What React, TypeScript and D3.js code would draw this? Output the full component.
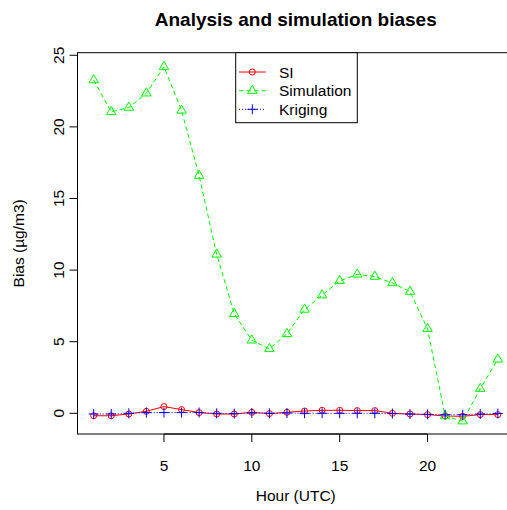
import React from "react";
import * as d3 from "d3";

const hours = [1, 2, 3, 4, 5, 6, 7, 8, 9, 10, 11, 12, 13, 14, 15, 16, 17, 18, 19, 20, 21, 22, 23, 24];
const siBias = [-0.17, -0.17, -0.05, 0.14, 0.47, 0.26, 0.05, -0.05, -0.05, 0.07, -0.02, 0.07, 0.16, 0.21, 0.21, 0.19, 0.19, 0, -0.05, -0.09, -0.19, -0.21, -0.09, -0.09];
const simBias = [23.27, 21.05, 21.35, 22.35, 24.2, 21.15, 16.6, 11.1, 6.95, 5.1, 4.5, 5.55, 7.25, 8.25, 9.25, 9.7, 9.55, 9.1, 8.5, 5.9, -0.18, -0.55, 1.72, 3.77];
const krigBias = [-0.05, -0.05, 0, 0.05, 0.05, 0.05, 0.05, 0, -0.02, 0.02, 0, 0.02, 0, 0, 0, 0, 0, -0.02, -0.05, -0.07, -0.1, -0.1, -0.05, -0.02];
const xTicks = [5, 10, 15, 20];
const yTicks = [0, 5, 10, 15, 20, 25];
const seriesNames = ["SI", "Simulation", "Kriging"];
const title = "Analysis and simulation biases";
const xTitle = "Hour (UTC)";
const yTitle = "Bias (µg/m3)";

const W = 507;
const H = 510;
const FONT = "'Liberation Sans', Arial, sans-serif";
const plotLeft = 77.5;
const plotRight = 514;
const plotTop = 52.7;
const plotBottom = 434;

const colors = ["#FF0000", "#00FF00", "#0000FF"];
const dashes = [undefined, "4.5,3", "1,2"];

function Marker({ kind, x, y, color }: { kind: number; x: number; y: number; color: string }) {
  if (kind === 0) return <circle cx={x} cy={y} r={3} fill="none" stroke={color} strokeWidth={1} />;
  if (kind === 1) {
    const s = 3.5;
    const pts = [
      [x, y - 1.555 * s],
      [x + 1.3468 * s, y + 0.7776 * s],
      [x - 1.3468 * s, y + 0.7776 * s],
    ];
    return <polygon points={pts.map((p) => p.join(",")).join(" ")} fill="none" stroke={color} strokeWidth={1} />;
  }
  const h = 5;
  return (
    <g stroke={color} strokeWidth={1}>
      <line x1={x - h} x2={x + h} y1={y} y2={y} />
      <line x1={x} x2={x} y1={y - h} y2={y + h} />
    </g>
  );
}

export default function App() {
  const x = d3.scaleLinear().domain([0.08, 24.92]).range([plotLeft, plotRight]);
  const y = d3.scaleLinear().domain([-1.445, 25.18]).range([plotBottom, plotTop]);
  const series = [siBias, simBias, krigBias];
  const line = d3
    .line<number>()
    .x((_, i) => x(hours[i]))
    .y((d) => y(d));

  const legLeft = 235.7;
  const legRight = 357.3;
  const legTop = plotTop;
  const legBottom = 122.7;
  const rowY = [72, 90.7, 109.3];

  return (
    <svg
      width={W}
      height={H}
      style={{ position: "absolute", left: 0, top: 0, background: "#fff" }}
      fontFamily={FONT}
    >
      <rect x={0} y={0} width={W} height={H} fill="#fff" />
      <text x={(plotLeft + plotRight) / 2} y={25.5} textAnchor="middle" fontSize={19} fontWeight="bold">
        {title}
      </text>
      {series.map((s, k) => (
        <g key={k}>
          <path d={line(s) || ""} fill="none" stroke={colors[k]} strokeWidth={1} strokeDasharray={dashes[k]} />
          {s.map((v, i) => (
            <Marker key={i} kind={k} x={x(hours[i])} y={y(v)} color={colors[k]} />
          ))}
        </g>
      ))}
      <rect
        x={plotLeft}
        y={plotTop}
        width={plotRight - plotLeft}
        height={plotBottom - plotTop}
        fill="none"
        stroke="#000"
        strokeWidth={1}
      />
      {/* x axis */}
      <line x1={x(xTicks[0])} x2={x(xTicks[xTicks.length - 1])} y1={plotBottom} y2={plotBottom} stroke="#000" />
      {xTicks.map((t) => (
        <g key={t}>
          <line x1={x(t)} x2={x(t)} y1={plotBottom} y2={plotBottom + 8} stroke="#000" />
          <text x={x(t)} y={471} textAnchor="middle" fontSize={15.5}>
            {t}
          </text>
        </g>
      ))}
      <text x={(plotLeft + plotRight) / 2} y={501} textAnchor="middle" fontSize={15.5}>
        {xTitle}
      </text>
      {/* y axis */}
      <line x1={plotLeft} x2={plotLeft} y1={y(yTicks[0])} y2={y(yTicks[yTicks.length - 1])} stroke="#000" />
      {yTicks.map((t) => (
        <g key={t}>
          <line x1={plotLeft} x2={plotLeft - 8} y1={y(t)} y2={y(t)} stroke="#000" />
          <text
            transform={`translate(64,${y(t)}) rotate(-90)`}
            textAnchor="middle"
            fontSize={15.5}
          >
            {t}
          </text>
        </g>
      ))}
      <text
        transform={`translate(24,${(plotTop + plotBottom) / 2}) rotate(-90)`}
        textAnchor="middle"
        fontSize={15.5}
      >
        {yTitle}
      </text>
      {/* legend */}
      <rect
        x={legLeft}
        y={legTop}
        width={legRight - legLeft}
        height={legBottom - legTop}
        fill="#fff"
        stroke="#000"
        strokeWidth={1}
      />
      {seriesNames.map((name, k) => (
        <g key={name}>
          <line
            x1={239}
            x2={265.7}
            y1={rowY[k]}
            y2={rowY[k]}
            stroke={colors[k]}
            strokeWidth={1}
            strokeDasharray={dashes[k]}
          />
          <Marker kind={k} x={252.3} y={rowY[k]} color={colors[k]} />
          <text x={279} y={rowY[k]} dy="0.36em" fontSize={15.5}>
            {name}
          </text>
        </g>
      ))}
    </svg>
  );
}
